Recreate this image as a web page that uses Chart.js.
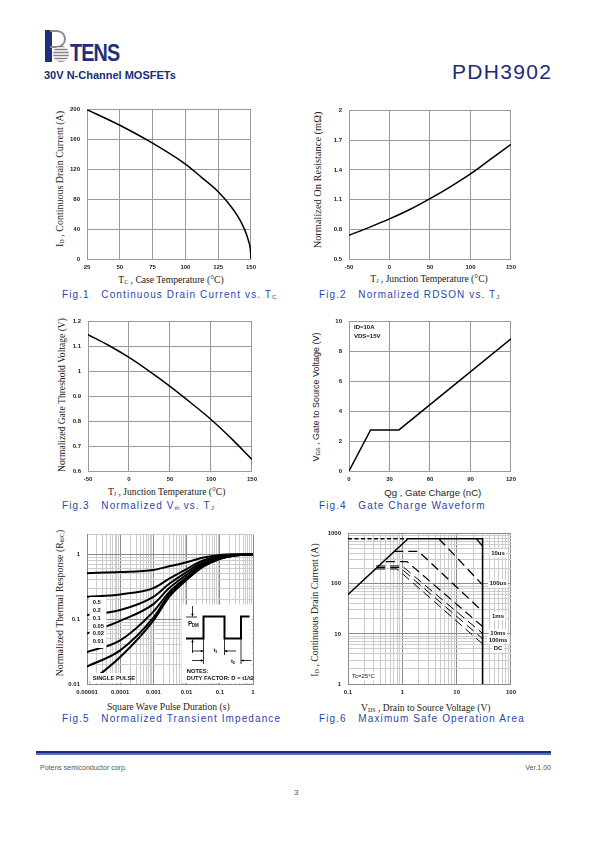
<!DOCTYPE html>
<html>
<head>
<meta charset="utf-8">
<script src="https://cdn.jsdelivr.net/npm/chart.js@4.4.1/dist/chart.umd.min.js"></script>
<style>
  body { margin: 0; width: 595px; height: 842px; background: #fff; position: relative; overflow: hidden;
         font-family: 'Liberation Sans', Arial, sans-serif; }
  .t { position: absolute; white-space: nowrap; }
  .yt { position: absolute; white-space: nowrap; transform: translate(-50%, -50%) rotate(-90deg);
        font-family: 'Liberation Serif', 'Times New Roman', serif; font-size: 10px; color: #222; }
  .xt { position: absolute; white-space: nowrap; transform: translate(-50%, -50%);
        font-family: 'Liberation Serif', 'Times New Roman', serif; font-size: 9.6px; color: #222; }
  .sans { font-family: 'Liberation Sans', Arial, sans-serif; }
  .cap { position: absolute; white-space: pre; transform: translateY(-50%); color: #2a47a6;
         font-size: 10px; letter-spacing: 1.1px; }
  sub { font-size: 62%; vertical-align: -1px; letter-spacing: 0; }
</style>
</head>
<body>

<!-- header -->
<div class="t" style="left:45px;top:30px;width:7px;height:32px;background:#1f2f7c"></div>
<div class="t" style="left:50px;top:30px;width:14px;height:14px;border:2px solid #8c8c8c;border-left:none;border-radius:0 9px 9px 0"></div>
<div class="t" style="left:53px;top:46px;width:16px;height:16px;border-radius:50%;background:repeating-linear-gradient(0deg,#777 0 1px,#ddd 1px 3px),#999;opacity:0.9"></div>
<div class="t" style="left:70px;top:40px;font:bold 23px 'Liberation Sans Narrow','Arial Narrow',sans-serif;color:#1f2f7c;letter-spacing:-1px;transform:scaleX(0.86);transform-origin:left top">TENS</div>
<div class="t" style="left:44px;top:69px;font:bold 11px 'Liberation Sans',Arial,sans-serif;color:#1c2b78">30V N-Channel MOSFETs</div>
<div class="t" style="left:452px;top:60px;font:21px 'Liberation Sans',Arial,sans-serif;color:#1c2b78;letter-spacing:1.3px">PDH3902</div>

<!-- axis titles -->
<div class="yt" style="left:59px;top:179px">I<sub>D</sub> , Continuous Drain Current (A)</div>
<div class="xt" style="left:171px;top:278.5px">T<sub>C</sub> , Case Temperature (°C)</div>
<div class="yt" style="left:316.7px;top:180px;font-size:10.4px">Normalized On Resistance (mΩ)</div>
<div class="xt" style="left:429px;top:278px">T<sub>J</sub> , Junction Temperature (°C)</div>
<div class="yt" style="left:60.7px;top:395px;font-size:9.6px">Normalized Gate Threshold Voltage (V)</div>
<div class="xt" style="left:166.7px;top:491px">T<sub>J</sub> , Junction Temperature (°C)</div>
<div class="yt sans" style="left:316px;top:396.7px;font-size:9px">V<sub>GS</sub> , Gate to Source Voltage (V)</div>
<div class="xt sans" style="left:432.8px;top:491.5px;font-size:9.6px">Qg , Gate Charge (nC)</div>
<div class="yt" style="left:59px;top:603px;font-size:9.8px">Normalized Thermal Response (R<sub>θJC</sub>)</div>
<div class="xt" style="left:168.3px;top:705.5px">Square Wave Pulse Duration (s)</div>
<div class="yt" style="left:314.3px;top:610px;font-size:9.8px">I<sub>D</sub> , Continuous Drain Current (A)</div>
<div class="xt" style="left:425.8px;top:706.5px">V<sub>DS</sub> , Drain to Source Voltage (V)</div>

<!-- captions -->
<div class="cap" style="left:62px;top:294px">Fig.1   Continuous Drain Current vs. T<sub>C</sub></div>
<div class="cap" style="left:319px;top:294px">Fig.2   Normalized RDSON vs. T<sub>J</sub></div>
<div class="cap" style="left:62px;top:505px">Fig.3   Normalized V<sub>th</sub> vs. T<sub>J</sub></div>
<div class="cap" style="left:319px;top:505px">Fig.4   Gate Charge Waveform</div>
<div class="cap" style="left:62px;top:718px">Fig.5   Normalized Transient Impedance</div>
<div class="cap" style="left:319px;top:718px">Fig.6   Maximum Safe Operation Area</div>

<!-- footer -->
<div class="t" style="left:36px;top:751px;width:515px;height:2px;background:#1e2d7a"></div>
<div class="t" style="left:36px;top:753px;width:515px;height:2px;background:#5a70c0"></div>
<div class="t" style="left:40px;top:764px;font-size:7px;color:#555">Potens semiconductor corp.</div>
<div class="t" style="right:44px;top:764px;font-size:7px;color:#555">Ver.1.00</div>
<div class="t" style="left:294px;top:788px;font-size:8px;color:#555">3</div>

<script>
// Fig.1  continuous drain current vs case temperature
const fig1Temp = [25, 50, 75, 100, 112.5, 125, 134, 140, 145, 148, 149.5, 150];
const fig1Current = [200, 179, 155, 127, 109, 90, 72, 57, 40, 25, 13, 0];
const fig1XTicks = [25, 50, 75, 100, 125, 150];
const fig1YTicks = [0, 40, 80, 120, 160, 200];

// Fig.2  normalized RDSON vs junction temperature
const fig2Temp = [-50, -25, 0, 25, 50, 75, 100, 125, 150];
const fig2Rds = [0.74, 0.82, 0.905, 1.0, 1.11, 1.23, 1.36, 1.51, 1.66];
const fig2XTicks = [-50, 0, 50, 100, 150];
const fig2YTicks = [0.5, 0.8, 1.1, 1.4, 1.7, 2];
const fig2YLabels = ['0.5', '0.8', '1.1', '1.4', '1.7', '2'];

// Fig.3  normalized Vth vs junction temperature
const fig3Temp = [-50, -25, 0, 25, 50, 75, 100, 125, 150];
const fig3Vth = [1.148, 1.105, 1.056, 1.0, 0.94, 0.875, 0.807, 0.73, 0.646];
const fig3XTicks = [-50, 0, 50, 100, 150];
const fig3YTicks = [0.6, 0.7, 0.8, 0.9, 1, 1.1, 1.2];
const fig3YLabels = ['0.6', '0.7', '0.8', '0.9', '1', '1.1', '1.2'];

// Fig.4  gate charge
const fig4Charge = [0, 16, 37, 120];
const fig4Vgs = [0, 2.75, 2.75, 8.85];
const fig4XTicks = [0, 30, 60, 90, 120];
const fig4YTicks = [0, 2, 4, 6, 8, 10];

// Fig.5  transient thermal impedance
const fig5Time = [0.00001, 0.0001, 0.001, 0.003, 0.01, 0.03, 0.1, 0.3, 1];
const fig5D05 = [0.51, 0.53, 0.57, 0.65, 0.75, 0.88, 0.97, 0.995, 1];
const fig5D02 = [0.22, 0.24, 0.30, 0.42, 0.59, 0.79, 0.93, 0.98, 1];
const fig5D01 = [0.115, 0.138, 0.22, 0.35, 0.53, 0.74, 0.90, 0.97, 1];
const fig5D005 = [0.06, 0.094, 0.17, 0.30, 0.48, 0.70, 0.88, 0.965, 1];
const fig5D002 = [0.031, 0.047, 0.13, 0.26, 0.44, 0.67, 0.86, 0.96, 1];
const fig5D001 = [0.0186, 0.033, 0.105, 0.24, 0.42, 0.65, 0.85, 0.955, 1];
const fig5SingleTime = [0.000012, 0.0001, 0.001, 0.003, 0.01, 0.03, 0.1, 0.3, 1];
const fig5Single = [0.0105, 0.026, 0.095, 0.22, 0.40, 0.63, 0.84, 0.95, 1];
const fig5Duty = ['0.5', '0.2', '0.1', '0.05', '0.02', '0.01'];
const fig5XTicks = [0.00001, 0.0001, 0.001, 0.01, 0.1, 1];
const fig5XLabels = ['0.00001', '0.0001', '0.001', '0.01', '0.1', '1'];
const fig5YTicks = [0.01, 0.1, 1];
const fig5YLabels = ['0.01', '0.1', '1'];

// Fig.6  safe operating area
const soaLimitV = [0.1, 1.27, 30, 30];
const soaLimitA = [61, 790, 790, 1];
const soaExtV = [0.1, 1.27];
const soaExtA = [790, 790];
const soa10usV = [23, 30], soa10usA = [790, 560];
const soa100usV = [4.7, 30], soa100usA = [790, 95];
const soa1msV = [0.71, 2.0, 30], soa1msA = [440, 440, 28];
const soa10msV = [0.5, 1.22, 30], soa10msA = [276, 276, 14];
const soa100msV = [0.33, 0.99, 30], soa100msA = [226, 226, 10.2];
const soaMidV = [0.33, 0.9, 30], soaMidA = [211, 211, 8];
const soaDcV = [0.33, 0.8, 30], soaDcA = [197, 197, 6.3];
const soaLabels = ['10us', '100us', '1ms', '10ms', '100ms', 'DC'];
const fig6XTicks = [0.1, 1, 10, 100];
const fig6XLabels = ['0.1', '1', '10', '100'];
const fig6YTicks = [1, 10, 100, 1000];
const fig6YLabels = ['1', '10', '100', '1000'];

const tickFont = { family: "'Liberation Sans', Arial, sans-serif", size: 6, weight: 'bold' };
const gridGray = '#999999';

function pts(xs, ys) { return xs.map((x, i) => ({ x: x, y: ys[i] })); }

function curve(xs, ys, extra) {
  return Object.assign({ data: pts(xs, ys), showLine: true, borderColor: '#000', borderWidth: 1.5,
    pointRadius: 0, cubicInterpolationMode: 'monotone' }, extra || {});
}

function straight(xs, ys, width, dash) {
  return curve(xs, ys, { tension: 0, cubicInterpolationMode: 'default', borderWidth: width, borderDash: dash || [] });
}

function fitAxis(isX) {
  return s => { if (isX) s.height = 18; else s.width = 40; };
}

function linAxis(ticks, labels, isX) {
  return {
    type: 'linear', min: ticks[0], max: ticks[ticks.length - 1],
    afterBuildTicks: s => { s.ticks = ticks.map(v => ({ value: v })); },
    afterFit: fitAxis(isX),
    grid: { color: gridGray, lineWidth: 1, drawTicks: false },
    border: { color: gridGray },
    ticks: { font: tickFont, color: '#222', padding: isX ? 5 : 7, maxRotation: 0, autoSkip: false,
      callback: (v, i) => labels ? labels[i] : String(ticks[i]) }
  };
}

function logAxis(min, max, majors, labels, isX) {
  const vals = [];
  for (let e = Math.floor(Math.log10(min)); e <= Math.ceil(Math.log10(max)); e++) {
    for (let d = 1; d <= 9; d++) {
      const v = d * Math.pow(10, e);
      if (v >= min * 0.999 && v <= max * 1.001) vals.push(v);
    }
  }
  const majorIdx = v => majors.findIndex(m => Math.abs(m - v) / m < 1e-6);
  return {
    type: 'logarithmic', min: min, max: max,
    afterBuildTicks: s => { s.ticks = vals.map(v => ({ value: v })); },
    afterFit: fitAxis(isX),
    grid: { drawTicks: false, lineWidth: 1,
      color: c => (c.tick && majorIdx(c.tick.value) >= 0) ? '#8a8a8a' : '#cccccc' },
    border: { color: '#8a8a8a' },
    ticks: { font: tickFont, color: '#222', padding: isX ? 5 : 7, maxRotation: 0, autoSkip: false,
      callback: v => { const k = majorIdx(v); return k >= 0 ? labels[k] : ''; } }
  };
}

function makeChart(rect, scales, datasets, drawExtra) {
  const c = document.createElement('canvas');
  const w = rect.r - rect.l + 48, h = rect.b - rect.t + 26;
  c.width = w; c.height = h;
  c.style.cssText = 'position:absolute;left:' + (rect.l - 40) + 'px;top:' + (rect.t - 8) + 'px;width:' + w + 'px;height:' + h + 'px';
  document.body.appendChild(c);
  new Chart(c, {
    type: 'scatter',
    data: { datasets: datasets },
    options: {
      responsive: false, animation: false,
      layout: { padding: { top: 8, right: 8, left: 0, bottom: 0 } },
      plugins: { legend: { display: false }, tooltip: { enabled: false } },
      scales: scales
    },
    plugins: drawExtra ? [{ id: 'extra', afterDatasetsDraw: drawExtra }] : []
  });
}

function txt(ctx, s, x, y, opt) {
  opt = opt || {};
  ctx.save();
  ctx.font = opt.font || "bold 6px 'Liberation Sans', Arial, sans-serif";
  ctx.textBaseline = 'middle';
  ctx.textAlign = opt.align || 'left';
  if (opt.bg) {
    const w = ctx.measureText(s).width;
    const x0 = opt.align === 'center' ? x - w / 2 : x;
    ctx.fillStyle = '#fff';
    ctx.fillRect(x0 - 1.5, y - 4, w + 3, 8);
  }
  ctx.fillStyle = opt.color || '#111';
  ctx.fillText(s, x, y);
  ctx.restore();
}

function arrow(ctx, x1, y1, x2, y2) {
  const a = Math.atan2(y2 - y1, x2 - x1), L = 3;
  ctx.beginPath(); ctx.moveTo(x1, y1); ctx.lineTo(x2, y2); ctx.stroke();
  ctx.beginPath();
  ctx.moveTo(x2, y2);
  ctx.lineTo(x2 - L * Math.cos(a - 0.45), y2 - L * Math.sin(a - 0.45));
  ctx.lineTo(x2 - L * Math.cos(a + 0.45), y2 - L * Math.sin(a + 0.45));
  ctx.closePath(); ctx.fill();
}

// Fig.1
makeChart({ l: 87, t: 107, r: 253, b: 259 },
  { x: linAxis(fig1XTicks, null, true), y: linAxis(fig1YTicks, null, false) },
  [curve(fig1Temp, fig1Current)]);

// Fig.2
makeChart({ l: 349, t: 108, r: 513, b: 259 },
  { x: linAxis(fig2XTicks, null, true), y: linAxis(fig2YTicks, fig2YLabels, false) },
  [curve(fig2Temp, fig2Rds)]);

// Fig.3
makeChart({ l: 88, t: 319, r: 254, b: 471 },
  { x: linAxis(fig3XTicks, null, true), y: linAxis(fig3YTicks, fig3YLabels, false) },
  [curve(fig3Temp, fig3Vth)]);

// Fig.4
makeChart({ l: 349, t: 319, r: 513, b: 471 },
  { x: linAxis(fig4XTicks, null, true), y: linAxis(fig4YTicks, null, false) },
  [straight(fig4Charge, fig4Vgs, 1.5)],
  chart => {
    const a = chart.chartArea, ctx = chart.ctx;
    txt(ctx, 'ID=10A', a.left + 5, a.top + 6);
    txt(ctx, 'VDS=15V', a.left + 5, a.top + 14.5);
  });

// Fig.5
makeChart({ l: 87, t: 532, r: 253, b: 684 },
  { x: logAxis(0.00001, 1, fig5XTicks, fig5XLabels, true), y: logAxis(0.01, 2, fig5YTicks, fig5YLabels, false) },
  [
    curve(fig5Time, fig5D05, { borderWidth: 2 }),
    curve(fig5Time, fig5D02, { borderWidth: 2 }),
    curve(fig5Time, fig5D01, { borderWidth: 2 }),
    curve(fig5Time, fig5D005, { borderWidth: 2 }),
    curve(fig5Time, fig5D002, { borderWidth: 2 }),
    curve(fig5Time, fig5D001, { borderWidth: 2 }),
    curve(fig5SingleTime, fig5Single, { borderWidth: 2 })
  ],
  chart => {
    const a = chart.chartArea, ctx = chart.ctx, L = a.left, R = a.right, B = a.bottom;
    const narrow = "bold 5.8px 'Liberation Sans Narrow', 'Arial Narrow', sans-serif";
    ctx.save();
    // duty legend
    ctx.fillStyle = '#fff';
    ctx.fillRect(L + 2.5, B - 87, 17, 51);
    fig5Duty.forEach((d, i) => txt(ctx, d, L + 5.7, B - 81.5 + 7.8 * i, { font: narrow }));
    // single pulse
    ctx.fillStyle = '#fff';
    ctx.fillRect(L + 2.5, B - 11, 36, 10);
    txt(ctx, 'SINGLE PULSE', L + 5.7, B - 5.5, { font: narrow });
    // inset
    ctx.fillStyle = '#fff';
    ctx.fillRect(R - 71.5, B - 79.5, 70.5, 78.5);
    const hi = B - 67.5, lo = B - 45.5;
    const xs = R - 67, xr = R - 49.5, xf = R - 28.5, xr2 = R - 12, xe = R - 3.5;
    ctx.strokeStyle = '#000'; ctx.lineWidth = 2;
    ctx.beginPath();
    ctx.moveTo(xs, lo); ctx.lineTo(xr, lo); ctx.lineTo(xr, hi); ctx.lineTo(xf, hi);
    ctx.lineTo(xf, lo); ctx.lineTo(xr2, lo); ctx.lineTo(xr2, hi); ctx.lineTo(xe, hi);
    ctx.stroke();
    ctx.lineWidth = 0.8; ctx.fillStyle = '#000';
    ctx.beginPath(); ctx.moveTo(R - 67, hi + 0.5); ctx.lineTo(R - 56, hi + 0.5); ctx.stroke();
    arrow(ctx, R - 60.5, B - 78, R - 60.5, hi);
    arrow(ctx, R - 60.5, B - 31, R - 60.5, lo + 1);
    // guide lines
    ctx.beginPath();
    ctx.moveTo(xr, lo); ctx.lineTo(xr, B - 20);
    ctx.moveTo(xf, lo); ctx.lineTo(xf, B - 29);
    ctx.moveTo(xr2, lo); ctx.lineTo(xr2, B - 20);
    ctx.stroke();
    arrow(ctx, R - 61, B - 33, xr, B - 33);
    arrow(ctx, R - 17, B - 33, xf, B - 33);
    arrow(ctx, R - 61, B - 23.5, xr, B - 23.5);
    arrow(ctx, R - 1.5, B - 23.5, xr2, B - 23.5);
    ctx.restore();
    txt(ctx, 'P', R - 65, B - 59.5, { font: "bold 6.5px 'Liberation Sans Narrow', sans-serif" });
    txt(ctx, 'DM', R - 61.3, B - 58, { font: "bold 4.5px 'Liberation Sans Narrow', sans-serif" });
    txt(ctx, 't', R - 39.5, B - 34, { font: "bold 6px 'Liberation Sans Narrow', sans-serif" });
    txt(ctx, '1', R - 37.7, B - 32.5, { font: "bold 4px 'Liberation Sans Narrow', sans-serif" });
    txt(ctx, 't', R - 22, B - 23, { font: "bold 6px 'Liberation Sans Narrow', sans-serif" });
    txt(ctx, '2', R - 20.2, B - 21.5, { font: "bold 4px 'Liberation Sans Narrow', sans-serif" });
    txt(ctx, 'NOTES:', R - 66.3, B - 13, { font: narrow });
    txt(ctx, 'DUTY FACTOR: D = t1/t2', R - 66.3, B - 5.3, { font: narrow });
  });

// Fig.6
const dashLong = [9, 5];
makeChart({ l: 348, t: 531, r: 513, b: 684 },
  { x: logAxis(0.1, 100, fig6XTicks, fig6XLabels, true), y: logAxis(1, 1000, fig6YTicks, fig6YLabels, false) },
  [
    straight(soaLimitV, soaLimitA, 1.6),
    straight(soaExtV, soaExtA, 1.3, [4, 2.5]),
    straight(soa10usV, soa10usA, 1.3, dashLong),
    straight(soa100usV, soa100usA, 1.3, dashLong),
    straight(soa1msV, soa1msA, 1.3, dashLong),
    straight(soa10msV, soa10msA, 1.2, dashLong),
    straight(soa100msV, soa100msA, 1.0, dashLong),
    straight(soaMidV, soaMidA, 1.0, dashLong),
    straight(soaDcV, soaDcA, 1.0, dashLong)
  ],
  chart => {
    const a = chart.chartArea, ctx = chart.ctx;
    const ys = [19.5, 50, 82.5, 99.5, 106.7, 115];
    soaLabels.forEach((s, i) => txt(ctx, s, a.right - 13, a.top + ys[i], { align: 'center', bg: true }));
    txt(ctx, 'Tc=25°C', a.left + 4, a.bottom - 7.5, { bg: true, font: "6px 'Liberation Sans', Arial, sans-serif" });
  });
</script>
</body>
</html>
